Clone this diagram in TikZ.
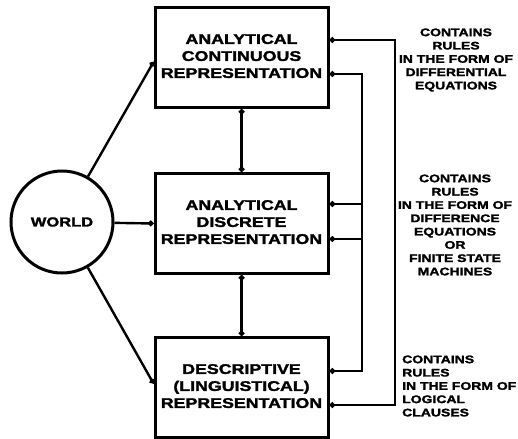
\documentclass[tikz,border=0pt]{standalone}
\usepackage{fontspec}
\setmainfont{Liberation Sans}
\newfontfamily\heavy{Liberation Sans}[FakeStretch=1.27,FakeBold=2]
\usetikzlibrary{arrows.meta,calc}
\tikzset{bead/.tip={Circle[length=5.5pt,width=5.5pt]}}
\begin{document}
\begin{tikzpicture}[x=1pt,y=-1pt,
  wire/.style={line width=2.4pt},
  repbox/.style={draw,line width=3pt,minimum width=173pt,minimum height=100pt,
    inner sep=0pt,font=\heavy\bfseries\fontsize{14}{17}\selectfont},
  worldnode/.style={draw,circle,line width=3pt,minimum size=102pt,inner sep=0pt,
    font=\heavy\bfseries\fontsize{13}{15}\selectfont},
  note/.style={font=\heavy\bfseries\fontsize{11}{13.3}\selectfont,inner sep=0pt}]
\useasboundingbox (0,0) rectangle (518,438);

% the three representations
\node[repbox] (b1) at (241.5,57.5)
  {\raisebox{7pt}{\begin{tabular}{@{}c@{}}ANALYTICAL\\CONTINUOUS\\REPRESENTATION\end{tabular}}};
\node[repbox] (b2) at (241.5,223.5)
  {\begin{tabular}{@{}c@{}}ANALYTICAL\\DISCRETE\\REPRESENTATION\end{tabular}};
\node[repbox] (b3) at (241.5,387.5)
  {\begin{tabular}{@{}c@{}}DESCRIPTIVE\\(LINGUISTICAL)\\REPRESENTATION\end{tabular}};

% the world
\node[worldnode] (world) at (62,222) {WORLD};

% world to each representation
\draw[wire,-bead] (world) -- ($(b1.west)+(0,4.5)$);
\draw[wire,-bead] (world) -- (b2.west);
\draw[wire,-bead] (world) -- ($(b3.west)+(0,-4)$);

% links between neighbouring representations
\draw[wire,bead-bead] (b1.south) -- (b2.north);
\draw[wire,bead-bead] (b2.south) -- (b3.north);

% rails on the right
\coordinate (outer) at (395,220);
\coordinate (inner) at (362,220);
\draw[wire,bead-bead] ($(b1.east)+(0,-17.5)$) -| (outer) |- ($(b3.east)+(0,17.5)$);
\draw[wire,bead-bead] ($(b1.east)+(0,16.5)$) -| (inner) |- ($(b2.east)+(0,-19.5)$);
\draw[wire,bead-bead] ($(b2.east)+(0,15.5)$) -| (inner) |- ($(b3.east)+(0,-16.5)$);

% rule descriptions
\node[note,align=center] (n1) at (456,60)
  {CONTAINS\\RULES\\IN THE FORM OF\\DIFFERENTIAL\\EQUATIONS};
\node[note,align=center] (n2) at (455,225)
  {CONTAINS\\RULES\\IN THE FORM OF\\DIFFERENCE\\EQUATIONS\\OR\\FINITE STATE\\MACHINES};
\node[note,align=left,anchor=west] (n3) at (402,386)
  {CONTAINS\\RULES\\IN THE FORM OF\\LOGICAL\\CLAUSES};
\end{tikzpicture}
\end{document}
